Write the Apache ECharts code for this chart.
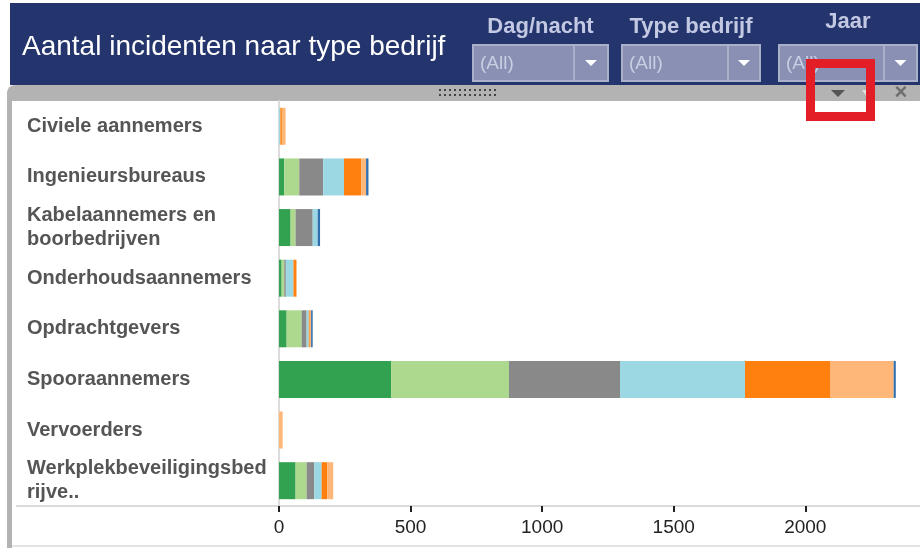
<!DOCTYPE html>
<html>
<head>
<meta charset="utf-8">
<title>Aantal incidenten naar type bedrijf</title>
<script src="https://cdn.jsdelivr.net/npm/echarts@6/dist/echarts.min.js"></script>
<style>
  html, body { margin: 0; padding: 0; background: #fff; }
  #chart { width: 920px; height: 548px; }
</style>
</head>
<body>
<div id="chart"></div>
<script>
// categorieen (van boven naar beneden)
var categories = [
  'Civiele aannemers',
  'Ingenieursbureaus',
  'Kabelaannemers en\nboorbedrijven',
  'Onderhoudsaannemers',
  'Opdrachtgevers',
  'Spooraannemers',
  'Vervoerders',
  'Werkplekbeveiligingsbed\nrijve..'
];
// een reeks per kleur, in volgorde van links naar rechts
var seriesNames = ['2012', '2013', '2014', '2015', '2016', '2017', '2018'];
var s2012 = [0, 20, 44, 10, 29, 426, 0, 63];
var s2013 = [0, 57, 19, 10, 57, 448, 0, 42];
var s2014 = [0, 91, 65, 6, 19, 422, 0, 29];
var s2015 = [5, 79, 19, 29, 8, 475, 0, 28];
var s2016 = [6, 65, 0, 10, 4, 323, 0, 21];
var s2017 = [14, 19, 0, 3, 5, 242, 14, 23];
var s2018 = [0, 9, 9, 0, 6, 8, 0, 0];
var xTicks = [0, 500, 1000, 1500, 2000];

var colors = ['#32a251', '#acd98d', '#898989', '#9bd8e3', '#ff800e', '#ffb779', '#2f6fad'];
var allSeries = [s2012, s2013, s2014, s2015, s2016, s2017, s2018];

var font = '"Liberation Sans", Arial, sans-serif';
var chart = echarts.init(document.getElementById('chart'));

// kop met filters
var filters = [
  { label: 'Dag/nacht', x0: 473, x1: 608, div: 574, ly: 27 },
  { label: 'Type bedrijf', x0: 622, x1: 760, div: 728, ly: 27 },
  { label: 'Jaar', x0: 779, x1: 917, div: 884, ly: 22 }
];

var graphics = [
  { type: 'rect', shape: { x: 10, y: 3, width: 910, height: 82 }, style: { fill: '#24356e' } },
  { type: 'text', style: { x: 22, y: 47, text: 'Aantal incidenten naar type bedrijf', fill: '#fff',
      fontSize: 28, fontFamily: font, verticalAlign: 'middle' } },
  { type: 'rect', shape: { x: 7, y: 85, width: 913, height: 16, r: [8, 0, 0, 0] }, style: { fill: '#b3b3b3' } },
  { type: 'rect', shape: { x: 7, y: 101, width: 5, height: 447 }, style: { fill: '#b3b3b3' } },
  { type: 'line', shape: { x1: 16, y1: 506, x2: 920, y2: 506 }, style: { stroke: '#dadada', lineWidth: 2 } },
  { type: 'line', shape: { x1: 12, y1: 546, x2: 920, y2: 546 }, style: { stroke: '#e3e3e3', lineWidth: 2 } }
];

filters.forEach(function (f) {
  var cx = (f.x0 + f.x1) / 2;
  var ax = (f.div + f.x1) / 2;
  graphics.push(
    { type: 'text', style: { x: cx, y: f.ly, text: f.label, fill: '#c3c9e2', fontSize: 22, fontWeight: 'bold',
        fontFamily: font, align: 'center', verticalAlign: 'middle' } },
    { type: 'rect', shape: { x: f.x0, y: 45, width: f.x1 - f.x0, height: 36 },
      style: { fill: '#8990b3', stroke: '#aab0c9', lineWidth: 2 } },
    { type: 'line', shape: { x1: f.div, y1: 45, x2: f.div, y2: 81 }, style: { stroke: '#aab0c9', lineWidth: 2 } },
    { type: 'text', style: { x: f.x0 + 7, y: 64, text: '(All)', fill: '#c9cee3', fontSize: 19,
        fontFamily: font, verticalAlign: 'middle' } },
    { type: 'polygon', shape: { points: [[ax - 6, 60], [ax + 6, 60], [ax, 66]] }, style: { fill: '#fff' } }
  );
});

// grip in de grijze balk
for (var i = 0; i < 12; i++) {
  for (var r = 0; r < 2; r++) {
    graphics.push({ type: 'rect', shape: { x: 439 + i * 5, y: 89 + r * 5, width: 2, height: 2 }, style: { fill: '#444' } });
  }
}

graphics.push(
  { type: 'polygon', shape: { points: [[831, 90], [845, 90], [838, 97]] }, style: { fill: '#555' } },
  { type: 'polygon', shape: { points: [[862, 90], [872, 90], [867, 97]] }, style: { fill: '#e2e2e2' } },
  { type: 'text', style: { x: 901, y: 93, text: '×', fill: '#6e6e6e', fontSize: 22, fontWeight: 'bold',
      fontFamily: font, align: 'center', verticalAlign: 'middle' } },
  { type: 'rect', z: 100, shape: { x: 810.5, y: 63.5, width: 60, height: 53 },
    style: { fill: 'none', stroke: '#e41e26', lineWidth: 9 } }
);

var option = {
  animation: false,
  color: colors,
  grid: { left: 279, top: 101, width: 641, height: 405 },
  xAxis: {
    type: 'value',
    min: 0,
    max: 2436,
    interval: 500,
    splitLine: { show: false },
    axisLine: { show: false },
    axisTick: { show: true, length: 6, lineStyle: { color: '#222', width: 2 } },
    axisLabel: {
      showMaxLabel: false,
      margin: 12,
      color: '#222',
      fontSize: 19,
      fontFamily: font,
      formatter: function (v) { return xTicks.indexOf(v) >= 0 ? String(v) : ''; }
    }
  },
  yAxis: {
    type: 'category',
    inverse: true,
    data: categories,
    axisLine: { show: true, lineStyle: { color: '#dcdcdc', width: 2 } },
    axisTick: { show: false },
    axisLabel: {
      align: 'left',
      margin: 252,
      color: '#555',
      fontSize: 20,
      fontWeight: 'bold',
      lineHeight: 24,
      fontFamily: font
    }
  },
  series: allSeries.map(function (d, k) {
    return {
      name: seriesNames[k],
      type: 'bar',
      stack: 'totaal',
      barWidth: 37,
      data: d
    };
  }),
  graphic: graphics
};
chart.setOption(option);
</script>
</body>
</html>
